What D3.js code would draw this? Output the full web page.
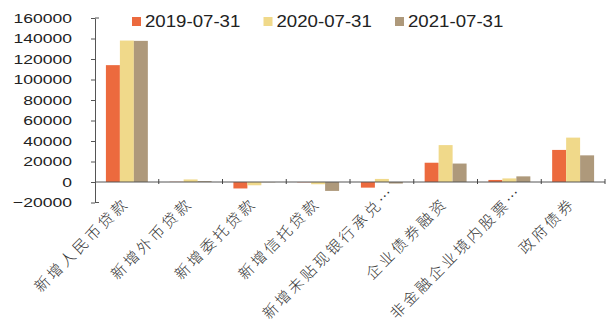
<!DOCTYPE html>
<html>
<head>
<meta charset="utf-8">
<script src="https://cdn.jsdelivr.net/npm/d3@7/dist/d3.min.js"></script>
<style>
  html, body { margin: 0; padding: 0; background: #fff; }
  svg { display: block; }
</style>
</head>
<body>
<svg id="chart" width="616" height="330"></svg>
<script>
// Social financing components (unit: 100 million CNY), three snapshot dates
const categories = ["新增人民币贷款", "新增外币贷款", "新增委托贷款", "新增信托贷款",
                    "新增未贴现银行承兑…", "企业债券融资", "非金融企业境内股票…", "政府债券"];
const seriesNames = ["2019-07-31", "2020-07-31", "2021-07-31"];
const values2019 = [114000, 200, -6300, -300, -5500, 18800, 2000, 31300];
const values2020 = [138000, 2500, -3200, -2200, 3000, 36000, 3500, 43300];
const values2021 = [137700, 800, -300, -8700, -1500, 18000, 5500, 26000];
const yTicks = [-20000, 0, 20000, 40000, 60000, 80000, 100000, 120000, 140000, 160000];
const colors = ["#EC6A3E", "#F0D98A", "#AE997B"];

const series = [values2019, values2020, values2021];
const svg = d3.select("#chart");
const H = 330;

const x = d3.scaleBand().domain(categories).range([95, 605]).paddingInner(0).paddingOuter(0);
const xInner = d3.scaleBand().domain(seriesNames).range([0, x.bandwidth()]).paddingInner(0).paddingOuter(0.78);
const y = d3.scaleLinear().domain([-20000, 160000]).range([202.5, 18]);

// Bars
series.forEach((vals, si) => {
  svg.append("g")
    .selectAll("rect")
    .data(vals)
    .join("rect")
    .attr("x", (d, i) => x(categories[i]) + xInner(seriesNames[si]))
    .attr("width", xInner.bandwidth())
    .attr("y", d => y(Math.max(0, d)))
    .attr("height", d => Math.abs(y(d) - y(0)))
    .attr("fill", colors[si]);
});

// Y axis
const yAxis = svg.append("g")
  .attr("transform", "translate(95,0)")
  .call(d3.axisLeft(y).tickValues(yTicks).tickSize(4).tickSizeOuter(0).tickFormat(d3.format("d")));
yAxis.select(".domain").attr("stroke", "#555");
yAxis.selectAll(".tick line").attr("stroke", "#555");
yAxis.selectAll(".tick text")
  .attr("x", 0)
  .attr("font-family", "Liberation Sans, Arial, sans-serif")
  .attr("font-size", 13.5)
  .attr("fill", "#222")
  .attr("text-anchor", "end")
  .attr("transform", "translate(-23,0) scale(1.3,1)");
// End stubs at top and bottom of the value axis
yAxis.selectAll(".endstub")
  .data([yTicks[0], yTicks[yTicks.length - 1]])
  .join("line")
  .attr("x1", 0).attr("x2", 4)
  .attr("y1", d => y(d)).attr("y2", d => y(d))
  .attr("stroke", "#555");

// Category axis along zero
const xAxisG = svg.append("g");
xAxisG.append("line")
  .attr("x1", 95).attr("x2", 605)
  .attr("y1", y(0)).attr("y2", y(0))
  .attr("stroke", "#555");
const boundaries = categories.map(c => x(c) + x.bandwidth());
xAxisG.selectAll(".sep")
  .data(boundaries)
  .join("line")
  .attr("x1", d => d).attr("x2", d => d)
  .attr("y1", y(0) - 3).attr("y2", y(0) + 2)
  .attr("stroke", "#444");

// Rotated category labels; long ones slide up along their slant so they stay inside the frame
const labelTop = 204, labelBottomLimit = H - 10;
const k = Math.SQRT1_2;
svg.append("g")
  .selectAll("text")
  .data(categories)
  .join("text")
  .attr("text-anchor", "end")
  .attr("font-family", "Noto Sans CJK SC, sans-serif")
  .attr("font-weight", 300)
  .attr("font-size", 15)
  .attr("letter-spacing", 3)
  .attr("fill", "#333")
  .text(d => d)
  .each(function (d) {
    const len = this.getBBox().width;
    const overflow = Math.max(0, labelTop + len * k - labelBottomLimit);
    const ax = x(d) + x.bandwidth() / 2 + 3 + overflow;
    const ay = labelTop - overflow;
    d3.select(this).attr("transform", `translate(${ax},${ay}) rotate(-45)`);
  });

// Legend
const legend = svg.append("g");
const item = legend.selectAll("g")
  .data(seriesNames)
  .join("g")
  .attr("transform", (d, i) => `translate(${132 + i * 131.5},17)`);
item.append("rect")
  .attr("width", 9).attr("height", 9)
  .attr("fill", (d, i) => colors[i]);
item.append("text")
  .attr("transform", "translate(13,10) scale(1.13,1)")
  .attr("font-family", "Liberation Sans, Arial, sans-serif")
  .attr("font-size", 16.5)
  .attr("fill", "#222")
  .text(d => d);
</script>
</body>
</html>
